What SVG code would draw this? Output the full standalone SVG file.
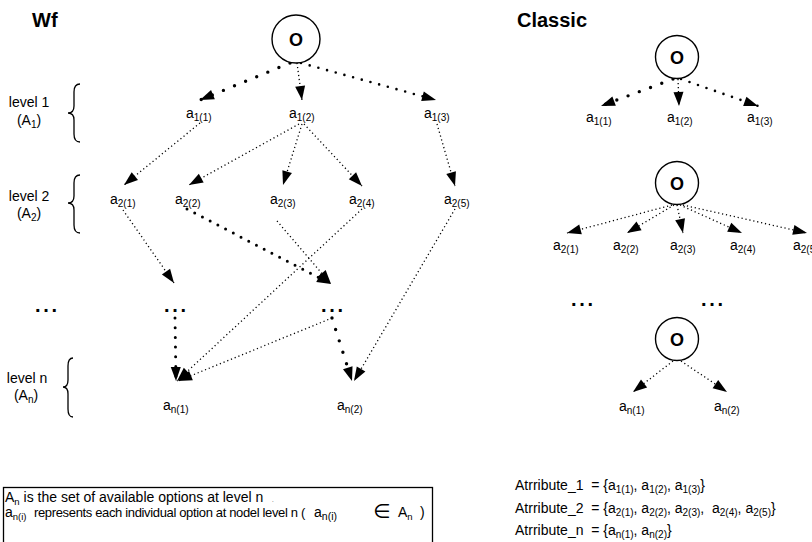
<svg xmlns="http://www.w3.org/2000/svg" width="812" height="542" viewBox="0 0 812 542">
<style>
text{font-family:"Liberation Sans",Arial,"DejaVu Sans",sans-serif;fill:#000}
.title{font-size:20px;font-weight:bold}
.o{font-size:18px;font-weight:bold;text-anchor:middle}
.lbl{font-size:14px}
.sub{font-size:10px}
.lsub{font-size:9.5px}
.lev{font-size:14px;text-anchor:middle}
.dots{font-size:20px;font-weight:bold;letter-spacing:2.7px}
.circ{fill:#fff;stroke:#000;stroke-width:1.4}
.brace{fill:none;stroke:#000;stroke-width:1.3}
.box{fill:#fff;stroke:#000;stroke-width:1.3}
.c{fill:none;stroke:#000;marker-end:url(#ah)}
.fine{stroke-width:1.3;stroke-dasharray:1.2 2.8}
.thick{stroke-width:3.4;stroke-linecap:round;stroke-dasharray:0 12}
.med{stroke-width:2.6;stroke-linecap:round;stroke-dasharray:0 9}
.med2{stroke-width:3;stroke-linecap:round;stroke-dasharray:0 8.7}
.vert{stroke-width:3;stroke-linecap:round;stroke-dasharray:0 9.7}
</style>
<defs>
<marker id="ah" markerUnits="userSpaceOnUse" markerWidth="15" markerHeight="11" refX="14" refY="5" orient="auto" overflow="visible">
<path d="M0,0 L14,5 L0,10 z" fill="#000"/>
</marker>
</defs>
<rect width="812" height="542" fill="#fff"/>

<g id="connectors">
<!-- Wf -->
<path class="c thick" d="M290,63 L200,100"/>
<path class="c fine" d="M297,63 L302,100"/>
<path class="c med" d="M301,63 L436,100"/>
<path class="c fine" d="M200,123 L124,185"/>
<path class="c fine" d="M299,124 L189,185"/>
<path class="c fine" d="M302,124 L283,185"/>
<path class="c fine" d="M304,124 L362,186"/>
<path class="c fine" d="M437,124 L455,186"/>
<path class="c fine" d="M123,210 L174,283"/>
<path class="c med2" d="M187,209 L331,284"/>
<path class="c fine" d="M277,221 L331,284"/>
<path class="c fine" d="M362,209 L177,381"/>
<path class="c fine" d="M455,209 L354,381"/>
<path class="c vert" d="M175,318 L176,381"/>
<path class="c fine" d="M332,318 L178,381"/>
<path class="c thick" d="M332,318 L352,381"/>
<!-- Classic -->
<path class="c thick" d="M673,79 L601,106"/>
<path class="c fine" d="M678,79 L679,106"/>
<path class="c med" d="M681,79 L758,106"/>
<path class="c fine" d="M672,205 L567,233"/>
<path class="c fine" d="M674,205 L627,233"/>
<path class="c fine" d="M677,205 L683,233"/>
<path class="c fine" d="M680,205 L742,233"/>
<path class="c fine" d="M683,205 L807,233"/>
<path class="c fine" d="M673,361 L633,392"/>
<path class="c fine" d="M681,361 L727,392"/>
</g>

<g id="title-wf"><text class="title" x="32" y="27">Wf</text></g>
<g id="title-classic"><text class="title" x="517" y="27">Classic</text></g>

<g id="wf-root"><circle class="circ" cx="296" cy="39" r="24"/><text class="o" x="296" y="46">O</text></g>

<g id="level1"><text class="lev" x="29" y="107">level 1</text><text class="lev" x="29" y="125">(A<tspan class="sub" dy="3">1</tspan><tspan dy="-3">)</tspan></text>
<path class="brace" d="M80,84 Q74,84 74,92 L74,106 Q74,113 68,113 Q74,113 74,120 L74,134 Q74,142 80,142"/></g>
<g id="level2"><text class="lev" x="29" y="201">level 2</text><text class="lev" x="29" y="218">(A<tspan class="sub" dy="3">2</tspan><tspan dy="-3">)</tspan></text>
<path class="brace" d="M80,175 Q74,175 74,183 L74,196 Q74,203 68,203 Q74,203 74,210 L74,225 Q74,233 80,233"/></g>
<g id="leveln"><text class="lev" x="27" y="383">level n</text><text class="lev" x="26" y="400">(A<tspan class="sub" dy="3">n</tspan><tspan dy="-3">)</tspan></text>
<path class="brace" d="M73,358 Q68,358 68,366 L68,380 Q68,387 63,387 Q68,387 68,394 L68,409 Q68,417 73,417"/></g>

<g id="wf-a11"><text class="lbl" x="186" y="118">a<tspan class="sub" dy="3">1(1)</tspan></text></g>
<g id="wf-a12"><text class="lbl" x="289" y="118">a<tspan class="sub" dy="3">1(2)</tspan></text></g>
<g id="wf-a13"><text class="lbl" x="424" y="118">a<tspan class="sub" dy="3">1(3)</tspan></text></g>
<g id="wf-a21"><text class="lbl" x="110" y="204">a<tspan class="sub" dy="3">2(1)</tspan></text></g>
<g id="wf-a22"><text class="lbl" x="175" y="204">a<tspan class="sub" dy="3">2(2)</tspan></text></g>
<g id="wf-a23"><text class="lbl" x="270" y="204">a<tspan class="sub" dy="3">2(3)</tspan></text></g>
<g id="wf-a24"><text class="lbl" x="349" y="204">a<tspan class="sub" dy="3">2(4)</tspan></text></g>
<g id="wf-a25"><text class="lbl" x="444" y="204">a<tspan class="sub" dy="3">2(5)</tspan></text></g>
<g id="wf-dots-left"><text class="dots" x="35" y="312">...</text></g>
<g id="wf-dots-mid"><text class="dots" x="164" y="312">...</text></g>
<g id="wf-dots-right"><text class="dots" x="321" y="312">...</text></g>
<g id="wf-an1"><text class="lbl" x="163" y="410">a<tspan class="sub" dy="3">n(1)</tspan></text></g>
<g id="wf-an2"><text class="lbl" x="337" y="410">a<tspan class="sub" dy="3">n(2)</tspan></text></g>

<g id="cl-root1"><circle class="circ" cx="677" cy="57" r="21.5"/><text class="o" x="677" y="64">O</text></g>
<g id="cl-a11"><text class="lbl" x="586" y="122">a<tspan class="sub" dy="3">1(1)</tspan></text></g>
<g id="cl-a12"><text class="lbl" x="667" y="122">a<tspan class="sub" dy="3">1(2)</tspan></text></g>
<g id="cl-a13"><text class="lbl" x="747" y="122">a<tspan class="sub" dy="3">1(3)</tspan></text></g>
<g id="cl-root2"><circle class="circ" cx="677" cy="183" r="21.5"/><text class="o" x="677" y="190">O</text></g>
<g id="cl-a21"><text class="lbl" x="553" y="250">a<tspan class="sub" dy="3">2(1)</tspan></text></g>
<g id="cl-a22"><text class="lbl" x="613" y="250">a<tspan class="sub" dy="3">2(2)</tspan></text></g>
<g id="cl-a23"><text class="lbl" x="670" y="250">a<tspan class="sub" dy="3">2(3)</tspan></text></g>
<g id="cl-a24"><text class="lbl" x="730" y="250">a<tspan class="sub" dy="3">2(4)</tspan></text></g>
<g id="cl-a25"><text class="lbl" x="793" y="250">a<tspan class="sub" dy="3">2(5)</tspan></text></g>
<g id="cl-dots-left"><text class="dots" x="571" y="306">...</text></g>
<g id="cl-dots-right"><text class="dots" x="701" y="306">...</text></g>
<g id="cl-root3"><circle class="circ" cx="677" cy="339" r="21.5"/><text class="o" x="677" y="346">O</text></g>
<g id="cl-an1"><text class="lbl" x="619" y="411">a<tspan class="sub" dy="3">n(1)</tspan></text></g>
<g id="cl-an2"><text class="lbl" x="714" y="411">a<tspan class="sub" dy="3">n(2)</tspan></text></g>

<g id="attributes">
<text class="lbl" x="515" y="490" xml:space="preserve">Atrribute_1  = {a<tspan class="sub" dy="3">1(1)</tspan><tspan dy="-3">, a</tspan><tspan class="sub" dy="3">1(2)</tspan><tspan dy="-3">, a</tspan><tspan class="sub" dy="3">1(3)</tspan><tspan dy="-3">}</tspan></text>
<text class="lbl" x="515" y="513" xml:space="preserve">Atrribute_2  = {a<tspan class="sub" dy="3">2(1)</tspan><tspan dy="-3">, a</tspan><tspan class="sub" dy="3">2(2)</tspan><tspan dy="-3">, a</tspan><tspan class="sub" dy="3">2(3)</tspan><tspan dy="-3">,  a</tspan><tspan class="sub" dy="3">2(4)</tspan><tspan dy="-3">, a</tspan><tspan class="sub" dy="3">2(5)</tspan><tspan dy="-3">}</tspan></text>
<text class="lbl" x="515" y="535" xml:space="preserve">Atrribute_n  = {a<tspan class="sub" dy="3">n(1)</tspan><tspan dy="-3">, a</tspan><tspan class="sub" dy="3">n(2)</tspan><tspan dy="-3">}</tspan></text>
</g>

<g id="legend">
<rect class="box" x="3.5" y="487.5" width="429" height="60"/>
<text x="5" y="502" style="font-size:14px">A<tspan class="lsub" dy="3">n</tspan><tspan dy="-3"> is the set of available options at level n</tspan></text>
<text x="272" y="502" style="font-size:6px">.</text>
<text x="5" y="517" style="font-size:14px">a<tspan class="lsub" dy="3">n(i)</tspan></text>
<text x="34" y="517" style="font-size:13px;letter-spacing:-0.35px">represents each individual option at nodel level n (</text>
<text x="314" y="517" style="font-size:14px">a<tspan style="font-size:10.5px" dy="3">n(i)</tspan></text>
<text x="373" y="518" style="font-size:20px">∈</text>
<text x="398" y="517" style="font-size:14px">A<tspan class="lsub" dy="3">n</tspan></text>
<text x="420" y="517" style="font-size:14px">)</text>
</g>
</svg>
